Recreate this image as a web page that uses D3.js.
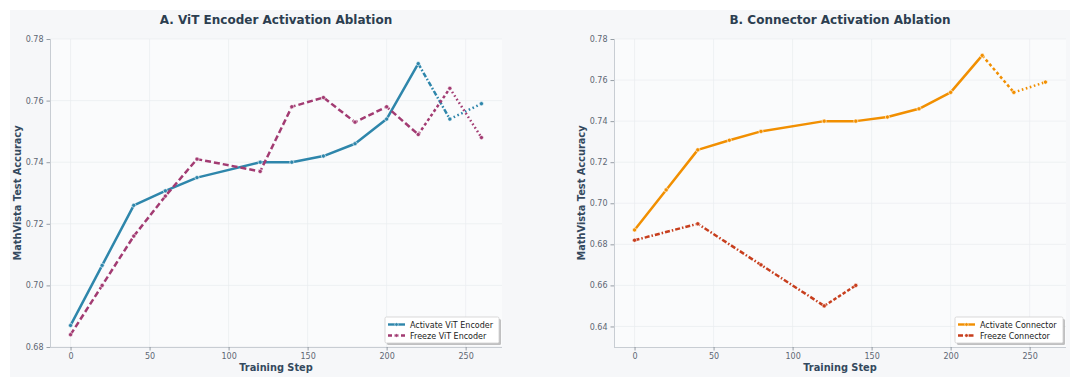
<!DOCTYPE html>
<html>
<head>
<meta charset="utf-8">
<script src="https://cdn.jsdelivr.net/npm/d3@7"></script>
<style>
  body { margin: 0; background: #ffffff; }
  text { font-family: "DejaVu Sans", sans-serif; }
</style>
</head>
<body>
<svg id="chart" width="1080" height="385"></svg>
<script>
// ---- data ----
var stepsFull = [0, 20, 40, 60, 80, 120, 140, 160, 180, 200, 220, 240, 260];
var stepsFreezeConn = [0, 40, 80, 120, 140];

var activateVit = [0.687, 0.7065, 0.726, 0.7307, 0.735, 0.740, 0.740, 0.742, 0.746, 0.754, 0.772, 0.754, 0.759];
var freezeVit = [0.684, 0.700, 0.716, 0.729, 0.741, 0.737, 0.758, 0.761, 0.753, 0.758, 0.749, 0.764, 0.748];
var activateConn = [0.687, 0.7065, 0.726, 0.7307, 0.735, 0.740, 0.740, 0.742, 0.746, 0.754, 0.772, 0.754, 0.759];
var freezeConn = [0.682, 0.690, 0.670, 0.650, 0.660];

var xTicks = [0, 50, 100, 150, 200, 250];
var yTicksA = [0.68, 0.70, 0.72, 0.74, 0.76, 0.78];
var yTicksB = [0.64, 0.66, 0.68, 0.70, 0.72, 0.74, 0.76, 0.78];

var svg = d3.select('#chart');

// figure background
svg.append('rect')
   .attr('x', 10).attr('y', 10)
   .attr('width', 1060).attr('height', 367)
   .style('fill', '#f6f7f9');

function zip(xs, ys){
  return xs.map(function(x, i){ return [x, ys[i]]; });
}

function drawPanel(opt){
  var x = d3.scaleLinear().domain([-13, 273]).range([opt.left, opt.right]);
  var y = d3.scaleLinear().domain(opt.yDomain).range([347, 39]);
  var g = svg.append('g');

  // plot area
  g.append('rect')
   .attr('x', opt.left).attr('y', 39)
   .attr('width', opt.right - opt.left).attr('height', 308)
   .style('fill', '#fafbfc');

  // grid
  g.selectAll('.gy').data(opt.yTicks).enter().append('line')
   .attr('x1', opt.left).attr('x2', opt.right)
   .attr('y1', function(d){ return y(d); }).attr('y2', function(d){ return y(d); })
   .style('stroke', '#e9ecef').style('stroke-width', 0.7);
  g.selectAll('.gx').data(xTicks).enter().append('line')
   .attr('x1', function(d){ return x(d); }).attr('x2', function(d){ return x(d); })
   .attr('y1', 39).attr('y2', 347)
   .style('stroke', '#e9ecef').style('stroke-width', 0.7);

  // axes
  var xAxis = g.append('g')
    .attr('transform', 'translate(0,347)')
    .call(d3.axisBottom(x).tickValues(xTicks).tickSize(3.5).tickPadding(3).tickFormat(d3.format('d')));
  var yAxis = g.append('g')
    .attr('transform', 'translate(' + opt.left + ',0)')
    .call(d3.axisLeft(y).tickValues(opt.yTicks).tickSize(3.5).tickPadding(3).tickFormat(d3.format('.2f')));
  [xAxis, yAxis].forEach(function(a){
    a.select('.domain').style('stroke', '#c8cdd3').style('stroke-width', 1);
    a.selectAll('.tick line').style('stroke', '#7f8891').style('stroke-width', 0.8);
    a.selectAll('.tick text').style('fill', '#5d6673').style('font-size', '8px')
     .style('font-family', '"DejaVu Sans", sans-serif');
  });
  xAxis.select('.domain').attr('d', 'M' + opt.left + ',0.5H' + opt.right);
  yAxis.select('.domain').attr('d', 'M0.5,39V347');

  // titles
  g.append('text')
   .attr('x', (opt.left + opt.right) / 2).attr('y', 24)
   .attr('text-anchor', 'middle')
   .style('font-size', '12px').style('font-weight', 'bold').style('fill', '#2c3e50')
   .text(opt.title);
  g.append('text')
   .attr('x', (opt.left + opt.right) / 2).attr('y', 371)
   .attr('text-anchor', 'middle')
   .style('font-size', '9.8px').style('font-weight', 'bold').style('fill', '#34495e')
   .text('Training Step');
  g.append('text')
   .attr('transform', 'translate(' + (opt.left - 29) + ',193) rotate(-90)')
   .attr('text-anchor', 'middle')
   .style('font-size', '9.8px').style('font-weight', 'bold').style('fill', '#34495e')
   .text('MathVista Test Accuracy');

  // series: consecutive segments sharing a dash pattern become one path
  opt.series.forEach(function(s){
    var pts = zip(s.steps, s.values);
    var line = d3.line().x(function(d){ return x(d[0]); }).y(function(d){ return y(d[1]); });
    var runs = [];
    for(var i = 0; i < pts.length - 1; i ++){
      var dash = (s.segDash && s.segDash[i]) ? s.segDash[i] : s.dash;
      var last = runs[runs.length - 1];
      if(last && last.dash == dash){
        last.pts.push(pts[i+1]);
      }else{
        runs.push({dash: dash, pts: [pts[i], pts[i+1]]});
      }
    }
    runs.forEach(function(r){
      g.append('path')
       .attr('d', line(r.pts))
       .style('fill', 'none')
       .style('stroke', s.color).style('stroke-width', 2.5)
       .style('stroke-dasharray', r.dash)
       .style('stroke-linejoin', 'round')
       .style('stroke-linecap', 'butt');
    });
    g.selectAll(null).data(pts).enter().append('circle')
     .attr('cx', function(d){ return x(d[0]); })
     .attr('cy', function(d){ return y(d[1]); })
     .attr('r', 2.1)
     .style('fill', s.color).style('stroke', '#ffffff').style('stroke-width', 0.6);
  });

  // legend
  var lw = opt.legendWidth, lh = 26;
  var lx = opt.right - 3 - lw, ly = 347 - 4 - lh;
  var leg = g.append('g');
  leg.append('rect')
   .attr('x', lx + 2).attr('y', ly + 2).attr('width', lw).attr('height', lh)
   .attr('rx', 1.5)
   .style('fill', '#9a9a9a').style('opacity', 0.6);
  leg.append('rect')
   .attr('x', lx).attr('y', ly).attr('width', lw).attr('height', lh)
   .attr('rx', 1.5)
   .style('fill', '#ffffff').style('stroke', '#cfcfcf').style('stroke-width', 0.8);
  opt.series.forEach(function(s, i){
    var cy = ly + 7.5 + i * 11;
    leg.append('line')
     .attr('x1', lx + 3).attr('x2', lx + 20)
     .attr('y1', cy).attr('y2', cy)
     .style('stroke', s.color).style('stroke-width', 2.4)
     .style('stroke-dasharray', s.legendDash);
    leg.append('circle')
     .attr('cx', lx + 11.5).attr('cy', cy).attr('r', 1.8)
     .style('fill', s.color).style('stroke', '#ffffff').style('stroke-width', 0.5);
    leg.append('text')
     .attr('x', lx + 25).attr('y', cy + 3)
     .style('font-size', '8px').style('fill', '#222222')
     .text(s.name);
  });
}

var DOT = '1.6,2.6';
var DASHDOT = '5,2,1.5,2';

drawPanel({
  left: 50, right: 502,
  yDomain: [0.68, 0.78], yTicks: yTicksA,
  title: 'A. ViT Encoder Activation Ablation',
  legendWidth: 114,
  series: [
    {name: 'Activate ViT Encoder', steps: stepsFull, values: activateVit, color: '#2e86ab',
     dash: 'none', segDash: {10: DASHDOT, 11: DOT}, legendDash: 'none'},
    {name: 'Freeze ViT Encoder', steps: stepsFull, values: freezeVit, color: '#a23b72',
     dash: '6,3', segDash: {10: '3,2.5', 11: DOT}, legendDash: '4,2.5'}
  ]
});

drawPanel({
  left: 614, right: 1066,
  yDomain: [0.63, 0.78], yTicks: yTicksB,
  title: 'B. Connector Activation Ablation',
  legendWidth: 108,
  series: [
    {name: 'Activate Connector', steps: stepsFull, values: activateConn, color: '#f18f01',
     dash: 'none', segDash: {10: '3,2.5', 11: DOT}, legendDash: 'none'},
    {name: 'Freeze Connector', steps: stepsFreezeConn, values: freezeConn, color: '#c73e1d',
     dash: DASHDOT, segDash: {3: '3.5,2'}, legendDash: '5,2,1.5,2'}
  ]
});
</script>
</body>
</html>
